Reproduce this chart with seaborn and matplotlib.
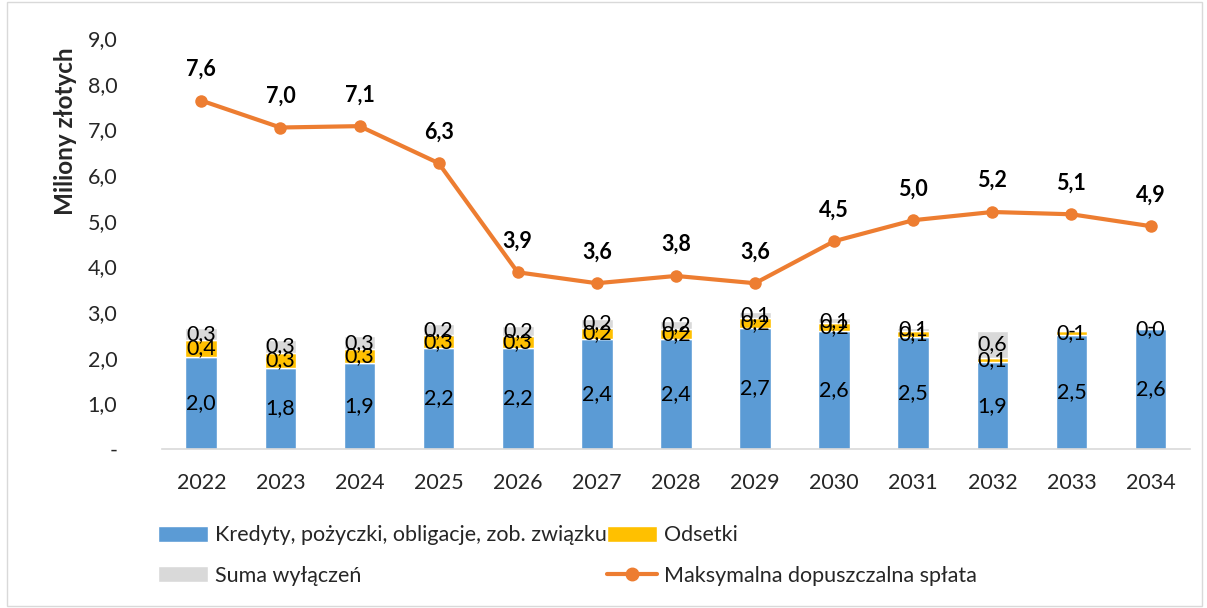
import numpy as np
import matplotlib
matplotlib.use("Agg")
import matplotlib.pyplot as plt
import seaborn as sns
from matplotlib.patches import Patch, Rectangle
from matplotlib.lines import Line2D

# chart data (millions PLN)
years = ["2022", "2023", "2024", "2025", "2026", "2027", "2028",
         "2029", "2030", "2031", "2032", "2033", "2034"]
kredyty = [2.02, 1.78, 1.88, 2.21, 2.21, 2.41, 2.41, 2.66, 2.58, 2.45, 1.90, 2.49, 2.62]
odsetki = [0.36, 0.32, 0.31, 0.28, 0.26, 0.24, 0.22, 0.20, 0.17, 0.13, 0.10, 0.09, 0.03]
wylaczenia = [0.28, 0.29, 0.28, 0.24, 0.22, 0.20, 0.18, 0.13, 0.11, 0.07, 0.58, 0.0, 0.0]
max_splata = [7.63, 7.04, 7.07, 6.26, 3.87, 3.63, 3.79, 3.63, 4.55, 5.01, 5.19, 5.14, 4.88]

C_BLUE = "#5B9BD5"
C_YELLOW = "#FFC000"
C_GRAY = "#D9D9D9"
C_ORANGE = "#ED7D31"
FS = 15.5

sns.set_theme(style="white")
plt.rcParams["font.family"] = ["Lato", "DejaVu Sans"]


def fmt(v):
    if v == 0:
        return "-"
    return f"{v:.1f}".replace(".", ",")


fig = plt.figure(figsize=(12.07, 6.08), dpi=100)
ax = fig.add_axes([0.134, 0.2615, 0.852, 0.676])

x = np.arange(len(years))
bottom2 = np.array(kredyty)
bottom3 = bottom2 + np.array(odsetki)

sns.barplot(x=years, y=kredyty, color=C_BLUE, width=0.4, saturation=1, ax=ax)
sns.barplot(x=years, y=odsetki, bottom=bottom2, color=C_YELLOW, width=0.4,
            saturation=1, ax=ax)
sns.barplot(x=years, y=wylaczenia, bottom=bottom3, color=C_GRAY, width=0.4,
            saturation=1, ax=ax)
sns.lineplot(x=x, y=max_splata, color=C_ORANGE, linewidth=3, marker="o",
             markersize=9, markeredgewidth=0, ax=ax, zorder=5)

# segment labels
for i in range(len(years)):
    ax.text(i, kredyty[i] / 2, fmt(kredyty[i]), ha="center", va="center",
            fontsize=FS, color="black")
    ax.text(i, bottom2[i] + odsetki[i] / 2, fmt(odsetki[i]), ha="center",
            va="center", fontsize=FS, color="black")
    ax.text(i, bottom3[i] + wylaczenia[i] / 2, fmt(wylaczenia[i]), ha="center",
            va="center", fontsize=FS, color="black")
    ax.annotate(fmt(max_splata[i]), (i, max_splata[i]), xytext=(0, 15),
                textcoords="offset points", ha="center", va="bottom",
                fontsize=FS, fontweight="bold", color="black")

ax.set_xlim(-0.5, len(years) - 0.5)
ax.set_ylim(0, 9)
ax.set_yticks(np.arange(0, 10, 1))
ax.set_yticklabels(["-"] + [f"{v:.1f}".replace(".", ",") for v in range(1, 10)])
ax.tick_params(axis="both", labelsize=FS, length=0)
ax.tick_params(axis="x", pad=17)
ax.tick_params(axis="y", pad=32)

ax.set_ylabel("Miliony złotych", fontsize=17.5, fontweight="bold")
ax.yaxis.set_label_coords(-0.082, 0.774)
ax.set_xlabel("")
for side in ["top", "right", "left"]:
    ax.spines[side].set_visible(False)
ax.spines["bottom"].set_color(C_GRAY)
ax.spines["bottom"].set_linewidth(1.2)
ax.grid(False)

handles = [
    Patch(facecolor=C_BLUE, label="Kredyty, pożyczki, obligacje, zob. związku"),
    Patch(facecolor=C_GRAY, label="Suma wyłączeń"),
    Patch(facecolor=C_YELLOW, label="Odsetki"),
    Line2D([0], [0], color=C_ORANGE, linewidth=3, marker="o", markersize=9,
           label="Maksymalna dopuszczalna spłata"),
]
fig.legend(handles=handles, ncol=2, loc="upper left",
           bbox_to_anchor=(0.115, 0.168), frameon=False, fontsize=FS,
           handlelength=2.3, handleheight=0.8, labelspacing=0.95,
           columnspacing=0.0, handletextpad=0.35)

fig.add_artist(Rectangle((0.006, 0.003), 0.99, 0.994, transform=fig.transFigure,
                         fill=False, edgecolor="#D9D9D9", linewidth=1))

fig.savefig("out.png", dpi=100)
